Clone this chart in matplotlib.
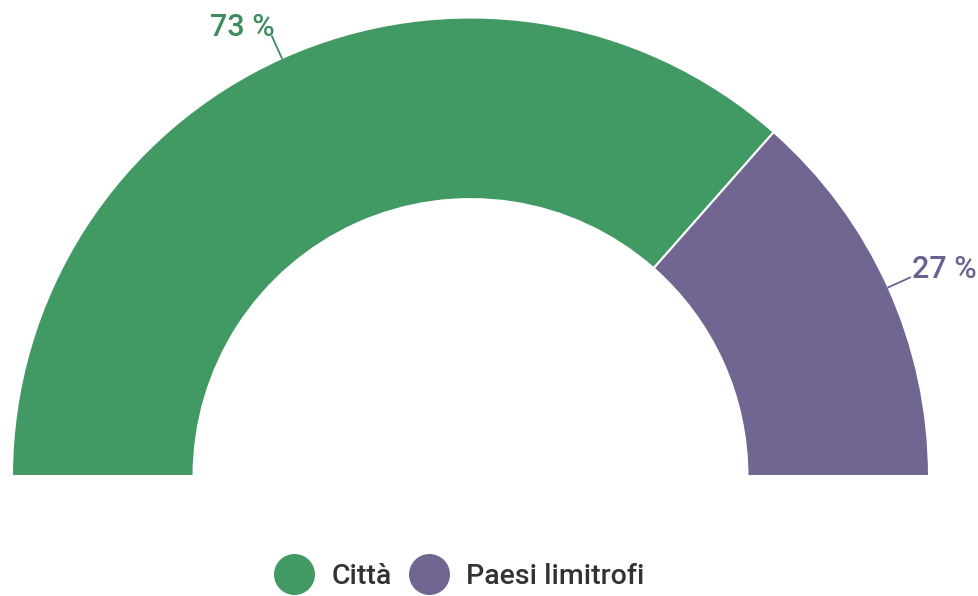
import matplotlib.pyplot as plt
from matplotlib.lines import Line2D
import numpy as np

plt.rcParams['font.family'] = ['Roboto', 'DejaVu Sans']

categories = ['Città', 'Paesi limitrofi']
values = [73, 27]
colors = ['#419963', '#716592']
label_colors = ['#3e8c5d', '#6b6090']

fig = plt.figure(figsize=(9.79, 5.96), dpi=100)
ax = fig.add_axes([0, 0, 1, 1])

# mezza ciambella: il terzo spicchio invisibile occupa la metà inferiore
wedges, _ = ax.pie(values + [sum(values)], colors=colors + ['none'],
                   startangle=180, counterclock=False, radius=1,
                   wedgeprops=dict(width=0.396, edgecolor='white', linewidth=1.5))
wedges[-1].set_edgecolor('none')

for w, v, c in zip(wedges[:2], values, label_colors):
    ang = np.deg2rad((w.theta1 + w.theta2) / 2)
    x0, y0 = np.cos(ang), np.sin(ang)
    x1, y1 = 1.052 * x0, 1.052 * y0
    ax.plot([x0, x1], [y0, y1], color=c, lw=1.3)
    ha = 'left' if x0 > 0 else 'right'
    dx = 0.004 if x0 > 0 else 0.005
    ax.text(x1 + dx, y1, f'{v} %', color=c, fontsize=22, fontweight='medium',
            ha=ha, va='baseline')

ax.set_xlim(-1.0262, 1.1091)
ax.set_ylim(-0.2617, 1.0382)
ax.set_aspect('auto')
ax.axis('off')

handles = [Line2D([], [], marker='o', ls='none', markersize=28.5,
                  markerfacecolor=c, markeredgecolor=c) for c in colors]
fig.legend(handles, categories, loc='center', bbox_to_anchor=(0.469, 0.032),
           ncol=2, frameon=False, prop=dict(size=20.5, weight='medium'),
           labelcolor='#333333',
           handlelength=1.4, handletextpad=0.62, columnspacing=0.6)

fig.savefig('out.png', dpi=100)
